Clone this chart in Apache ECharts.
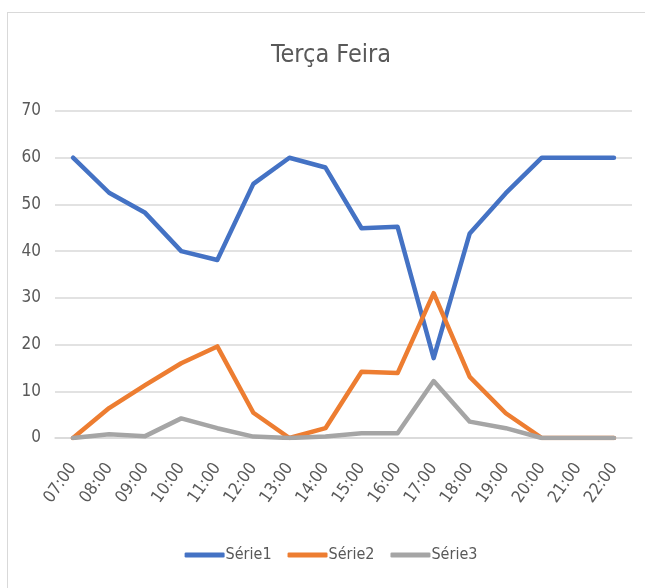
<!DOCTYPE html>
<html>
<head>
<meta charset="utf-8">
<script src="https://cdn.jsdelivr.net/npm/echarts@6/dist/echarts.min.js"></script>
<style>
  html, body { margin: 0; padding: 0; background: #fff; overflow: hidden; }
  #frame { position: absolute; left: 7px; top: 12px; width: 648px; height: 600px; border: 1px solid #d9d9d9; }
  #chart_box { position: absolute; left: 0; top: 0; width: 662px; height: 588px; }
</style>
</head>
<body>
<div id="frame"></div>
<div id="chart_box"></div>
<script>
// categorias (horas)
const hours = ['07:00','08:00','09:00','10:00','11:00','12:00','13:00','14:00','15:00','16:00','17:00','18:00','19:00','20:00','21:00','22:00'];
// valores
const serie1 = [60, 52.5, 48.2, 40, 38.1, 54.4, 60, 57.9, 44.9, 45.2, 17.1, 43.8, 52.4, 60, 60, 60];
const serie2 = [0, 6.4, 11.3, 16, 19.6, 5.4, 0, 2.1, 14.2, 13.9, 31, 13.1, 5.3, 0, 0, 0];
const serie3 = [0, 0.8, 0.4, 4.2, 2.1, 0.3, 0, 0.3, 1, 1, 12.2, 3.5, 2.1, 0, 0, 0];
const yTicks = [0, 10, 20, 30, 40, 50, 60, 70];

const seriesNames = ['Série1', 'Série2', 'Série3'];
const seriesColor = ['#4472C4', '#ED7D31', '#A5A5A5'];
const seriesData = [serie1, serie2, serie3];

const font = '"DejaVu Sans Condensed", "Liberation Sans Narrow", "Open Sans", sans-serif';
const textColor = '#595959';

let myEcharts = echarts.init(document.getElementById('chart_box'));

let seriesList = [];
for (let i = 0; i < seriesNames.length; i++) {
  seriesList.push({
    name: seriesNames[i],
    type: 'line',
    data: seriesData[i],
    showSymbol: false,
    symbol: 'none',
    lineStyle: { width: 4.5, color: seriesColor[i], cap: 'round', join: 'round' },
    itemStyle: { color: seriesColor[i] }
  });
}

let option = {
  animation: false,
  backgroundColor: 'transparent',
  title: {
    text: 'Terça Feira',
    left: 'center',
    top: 38,
    textStyle: { fontFamily: font, fontSize: 25, fontWeight: 'normal', color: textColor }
  },
  legend: {
    bottom: 20,
    left: 'center',
    icon: 'roundRect',
    itemWidth: 40,
    itemHeight: 5,
    itemGap: 16,
    textStyle: { fontFamily: font, fontSize: 16, color: textColor, padding: [0, 0, 0, -4] },
    data: seriesNames
  },
  grid: { left: 55, right: 30, top: 111, height: 327, containLabel: false },
  xAxis: {
    type: 'category',
    data: hours,
    boundaryGap: true,
    axisTick: { show: false },
    axisLine: { show: true, lineStyle: { color: '#d9d9d9', width: 1.5 } },
    axisLabel: {
      rotate: 55,
      interval: 0,
      margin: 27,
      fontFamily: font,
      fontSize: 17,
      color: textColor
    }
  },
  yAxis: {
    type: 'value',
    min: yTicks[0],
    max: yTicks[yTicks.length - 1],
    interval: 10,
    axisLine: { show: false },
    axisTick: { show: false },
    axisLabel: { fontFamily: font, fontSize: 17, color: textColor, margin: 14 },
    splitLine: { show: true, lineStyle: { color: '#d9d9d9', width: 1.5 } }
  },
  series: seriesList
};

myEcharts.setOption(option);
</script>
</body>
</html>
